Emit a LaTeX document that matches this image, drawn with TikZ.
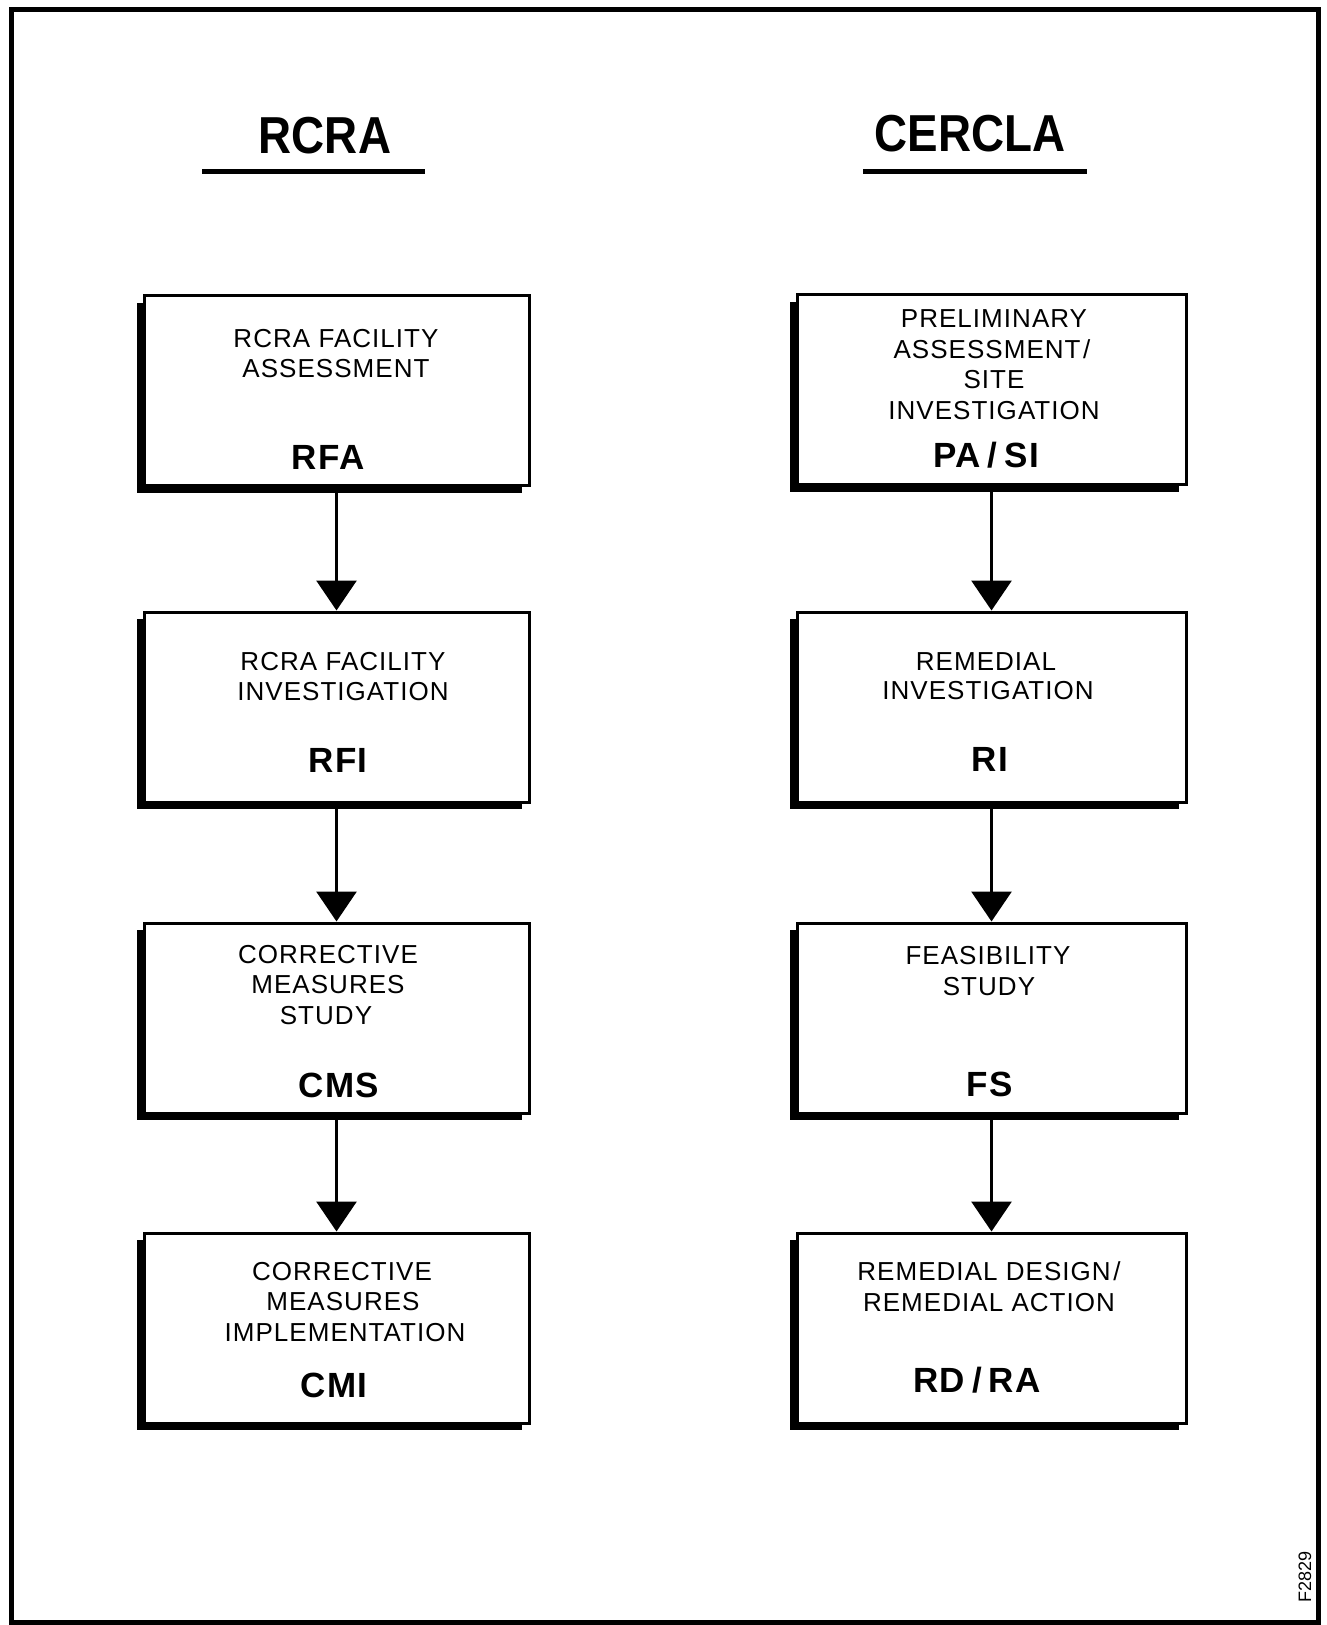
\documentclass[tikz,border=0pt]{standalone}
\usepackage{fontspec}
\usepackage{graphicx}
\setmainfont{Liberation Sans}
\newfontfamily\bodyfont[LetterSpace=4,WordSpace=1.6]{Liberation Sans}
\newfontfamily\abbrfont[LetterSpace=4]{Liberation Sans}
\newcommand\wsl{\hspace{0.2em}/\hspace{0.2em}}
\usetikzlibrary{arrows.meta,shadows}
\begin{document}
\begin{tikzpicture}[x=0.5pt,y=-0.5pt]
\tikzset{
 box/.style={draw, line width=1.5pt, fill=white, rectangle, minimum width=192.5pt,
   minimum height=95pt, inner sep=0pt,
   general shadow={fill=black, shadow xshift=-3.5pt, shadow yshift=-3.5pt}},
 boxR/.style={box, minimum width=194.5pt},
 ln/.style={anchor=base, inner sep=0pt, font=\bodyfont\fontsize{13pt}{15pt}\selectfont},
 ab/.style={anchor=base, inner sep=0pt, font=\abbrfont\fontsize{17.5pt}{20pt}\selectfont\bfseries},
 ttl/.style={anchor=base, inner sep=0pt, font=\fontsize{26pt}{30pt}\selectfont\bfseries},
 flow/.style={line width=1.5pt, -{Triangle[width=20pt,length=15pt]}},
 uline/.style={line width=2.5pt},
 frame/.style={line width=2.5pt}
}
\useasboundingbox (0,0) rectangle (1326,1625);
\draw[frame] (11,10) rectangle (1318,1622);

% titles
\node[ttl] (tRCRA) at (325,154) {\scalebox{0.88}[1]{RCRA}};
\node[ttl] (tCERCLA) at (970,152) {\scalebox{0.88}[1]{CERCLA}};
\coordinate (ulA1) at (202,172); \coordinate (ulA2) at (425,172);
\coordinate (ulB1) at (863,172); \coordinate (ulB2) at (1087,172);
\draw[uline] (ulA1) -- (ulA2);
\draw[uline] (ulB1) -- (ulB2);

% left column boxes
\node[box] (rfa) at (336.5,391) {};
\node[box] (rfi) at (336.5,707) {};
\node[box] (cms) at (336.5,1018) {};
\node[box] (cmi) at (336.5,1328) {};
% right column boxes
\node[boxR] (pasi) at (991.5,390) {};
\node[boxR] (ri) at (991.5,707) {};
\node[boxR] (fs) at (991.5,1018) {};
\node[boxR] (rdra) at (991.5,1328) {};

% arrows
\draw[flow] (rfa.south) -- (rfi.north);
\draw[flow] (rfi.south) -- (cms.north);
\draw[flow] (cms.south) -- (cmi.north);
\draw[flow] (pasi.south) -- (ri.north);
\draw[flow] (ri.south) -- (fs.north);
\draw[flow] (fs.south) -- (rdra.north);

% RFA
\node[ln] (rfa1) at (336,348) {RCRA FACILITY};
\node[ln] (rfa2) at (336,378) {ASSESSMENT};
\node[ab] (rfa3) at (328,470) {RFA};
% RFI
\node[ln] (rfi1) at (343,670) {RCRA FACILITY};
\node[ln] (rfi2) at (343,700) {INVESTIGATION};
\node[ab] (rfi3) at (338,772) {RFI};
% CMS
\node[ln] (cms1) at (328,963) {CORRECTIVE};
\node[ln] (cms2) at (328,993) {MEASURES};
\node[ln] (cms3) at (326,1024) {STUDY};
\node[ab] (cms4) at (339,1097) {CMS};
% CMI
\node[ln] (cmi1) at (342,1280) {CORRECTIVE};
\node[ln] (cmi2) at (343,1310) {MEASURES};
\node[ln] (cmi3) at (345,1341) {IMPLEMENTATION};
\node[ab] (cmi4) at (334,1397) {CMI};
% PA/SI
\node[ln] (pasi1) at (994,328) {PRELIMINARY};
\node[ln] (pasi2) at (992,359) {ASSESSMENT\hspace{0.1em}/};
\node[ln] (pasi3) at (994,389) {SITE};
\node[ln] (pasi4) at (994,420) {INVESTIGATION};
\node[ab] (pasi5) at (986,468) {PA\wsl SI};
% RI
\node[ln] (ri1) at (986,670) {REMEDIAL};
\node[ln] (ri2) at (988,699) {INVESTIGATION};
\node[ab] (ri3) at (990,771) {RI};
% FS
\node[ln] (fs1) at (988,964) {FEASIBILITY};
\node[ln] (fs2) at (989,995) {STUDY};
\node[ab] (fs3) at (990,1096) {FS};
% RD/RA
\node[ln] (rdra1) at (989,1280) {REMEDIAL DESIGN\hspace{0.1em}/};
\node[ln] (rdra2) at (989,1311) {REMEDIAL ACTION};
\node[ab] (rdra3) at (977,1392) {RD\wsl RA};

% figure number
\node[rotate=90, inner sep=0pt, font=\fontsize{9pt}{10pt}\selectfont] (fig) at (1305,1577) {F2829};
\end{tikzpicture}
\end{document}
